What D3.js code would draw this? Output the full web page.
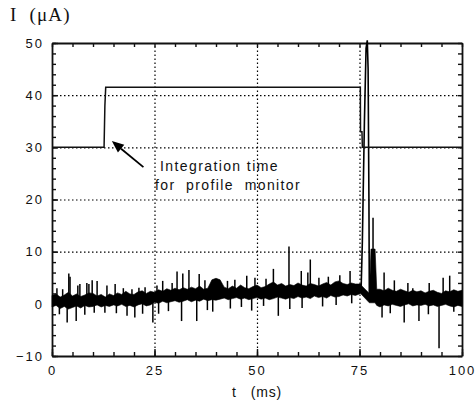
<!DOCTYPE html>
<html>
<head>
<meta charset="utf-8">
<script src="https://cdn.jsdelivr.net/npm/d3@7"></script>
<style>
  body { margin: 0; background: #fff; }
  svg { display: block; }
  .axis text { font-family: "Liberation Sans", Arial, sans-serif; font-size: 13px; letter-spacing: 2px; fill: #111; }
  .axis path, .axis line { stroke: #111; }
  .grid line { stroke: #000; stroke-width: 1.2px; stroke-dasharray: 1.5 2.5; }
  .grid path { display: none; }
</style>
</head>
<body>
<div id="chart"></div>
<script>
const width = 475;
const height = 404;

// axis ticks
const xTicks = [0, 25, 50, 75, 100];
const yTicks = [-10, 0, 10, 20, 30, 40, 50];
const xGrid = [25, 50, 75];
const yGrid = [10, 20, 30, 40];

// gate signal (integration time for the profile monitor)
const pulseT = [0, 12.7, 12.9, 13.1, 75.2, 75.25, 75.6, 75.7, 100];
const pulseV = [30, 30, 38, 41.5, 41.5, 33, 33, 30, 30];

// beam current: upper / lower edge of the noise band, read every 1 ms
const noiseT = d3.range(0, 75).concat([75.3, 75.6, 77.4, 77.8, 78.8, 79.2], d3.range(80, 101));
const noiseHi = [
  1.6, 1.9, 1.3, 1.7, 2.2, 1.5, 1.9, 1.4, 1.7, 2.1,
  2.0, 1.5, 1.8, 1.3, 1.9, 1.6, 2.1, 1.8, 2.4, 1.9,
  1.8, 2.3, 2.5, 2.0, 2.4, 2.2, 2.7, 2.4, 2.9, 2.6,
  3.0, 2.7, 3.1, 2.8, 3.2, 2.9, 3.4, 2.8, 3.0, 4.6,
  4.9, 4.6, 3.2, 2.9, 3.4, 3.0, 3.6, 3.1, 2.9, 3.3,
  3.6, 3.1, 3.3, 3.8, 4.2, 3.6, 3.9, 3.4, 3.7, 3.5,
  4.0, 3.6, 3.4, 3.9, 3.7, 3.4, 3.8, 4.1, 3.6, 4.2,
  4.4, 3.9, 3.7, 4.0, 3.8,
  3.8, 3.4, 2.0, 10.5, 10.5, 2.8,
  2.8, 2.5, 3.0, 2.6, 2.4, 2.8, 2.5, 2.2, 2.6, 2.3,
  2.5, 2.1, 2.4, 2.6, 2.2, 2.0, 2.5, 2.3, 2.7, 2.4, 2.6];
const noiseLo = [
  -0.6, -0.3, -0.9, -0.5, -1.0, -0.7, -0.4, -0.8, -0.3, -0.6,
  -0.5, -0.2, -0.6, -0.3, -0.5, -0.2, -0.4, -0.1, -0.5, -0.3,
  -0.6, -0.2, 0.0, -0.4, -0.2, 0.3, 0.1, 0.5, 0.2, 0.4,
  0.6, 0.3, 0.5, 0.8, 0.4, 0.7, 0.5, 0.9, 0.6, 0.8,
  0.7, 0.9, 1.1, 0.8, 1.0, 1.2, 0.9, 1.1, 0.8, 1.0,
  1.2, 0.9, 1.1, 0.8, 1.0, 1.3, 1.1, 0.9, 1.2, 1.0,
  1.4, 1.1, 1.3, 1.0, 1.5, 1.2, 1.4, 1.1, 1.6, 1.3,
  1.4, 1.7, 1.5, 1.8, 1.6,
  2.0, 1.7, 0.2, 0.2, 0.2, -0.3,
  -0.6, -0.2, -0.4, -0.1, -0.3, -0.5, -0.2, 0.0, -0.4, -0.2,
  -0.3, -0.1, -0.4, -0.2, -0.5, -0.3, -0.1, -0.4, -0.6, -0.3, -0.5];

// the beam pulse at extraction
const burstT = [75.4, 75.7, 76.2, 76.6, 76.9, 77.1, 77.3, 77.4];
const burstV = [3, 12, 35, 49, 50.5, 45, 20, 1];

// single spikes on the noise (time, tip value)
const spikeT = [1.2, 2.6, 4.1, 4.4, 6.3, 6.8, 8.5, 9.0, 9.8, 11, 13.4, 15.4, 17.4, 19.5, 21.2, 22.7, 25.6, 27.0, 29.3, 30.5, 31.9, 33.4, 35.9, 37.3,
                42.8, 44.6, 47.5, 49.5, 52.2, 54, 57.8, 60.8, 62.4, 63, 65.1, 67.4, 70.2, 72.7, 78.3, 81, 83.5, 86.8, 88, 92, 95.4, 97,
                1.8, 3.7, 5.9, 8, 10.3, 12.9, 15.7, 18.3, 20.2, 22.1, 24.6, 26, 28.4, 31.6, 35.3, 37.9, 39.2, 43.5, 46.2, 48.7, 51.6, 55.2, 58, 61, 66, 69.3, 73.1,
                80.5, 82.5, 85.9, 89.5, 91.8, 94.4, 98];
const spikeV = [3.0, 2.8, 5.8, 5.2, 3.5, 3.8, 4.0, 3.8, 4.5, 4.4, 3.5, 3.8, 3.0, 2.8, 3.1, 3.2, 3.5, 4.4, 4.0, 6.2, 5.8, 6.5, 5.7, 4.5,
                4.4, 4.6, 5.4, 5.0, 4.8, 6.7, 11, 6.3, 6.0, 8.5, 5.0, 5.2, 5.5, 6.3, 16.5, 6.0, 4.5, 4.0, 3.0, 4.0, 5.0, 5.4,
                -2.0, -3.6, -3.3, -2.1, -1.7, -1.7, -1.8, -2.3, -2.6, -1.9, -3.6, -1.9, -1.4, -3.3, -3.3, -1.2, -1.5, -0.9, -0.6, -1.3, -0.4, -2.3, -1.0, -0.8, -0.5, -0.2, 0.1,
                -2.6, -1.8, -3.6, -3.3, -2.0, -8.5, -1.5];

// annotation arrow, data coordinates (tail -> tip)
const arrowFrom = [22.3, 26.2];
const arrowTo = [14.6, 31.2];

const x = d3.scaleLinear().domain([0, 100]).range([52, 462]);
const y = d3.scaleLinear().domain([-10, 50]).range([356, 43]);

const svg = d3.select("#chart")
    .append("svg")
    .attr("width", width)
    .attr("height", height);

// dotted grid
svg.append("g").attr("class", "grid")
    .attr("transform", `translate(0,${y(-10)})`)
    .call(d3.axisBottom(x).tickValues(xGrid).tickSize(-(y(-10) - y(50))).tickFormat(""));
svg.append("g").attr("class", "grid")
    .attr("transform", `translate(${x(0)},0)`)
    .call(d3.axisLeft(y).tickValues(yGrid).tickSize(-(x(100) - x(0))).tickFormat(""));

// axes, ticks pointing inward on all sides
const xMinor = d3.range(0, 101, 5);
const yMinor = d3.range(-10, 51, 2);

svg.append("g").attr("class", "axis")
    .attr("transform", `translate(0,${y(-10)})`)
    .call(d3.axisBottom(x).tickValues(xMinor).tickSize(-4).tickSizeOuter(0).tickFormat(""));
svg.append("g").attr("class", "axis")
    .attr("transform", `translate(0,${y(-10)})`)
    .call(d3.axisBottom(x).tickValues(xTicks).tickSize(-7).tickPadding(10).tickFormat(d3.format("d")))
    .call(g => g.select(".domain").remove());
svg.append("g").attr("class", "axis")
    .attr("transform", `translate(0,${y(50)})`)
    .call(d3.axisTop(x).tickValues(xMinor).tickSize(-4).tickSizeOuter(0).tickFormat(""));

svg.append("g").attr("class", "axis")
    .attr("transform", `translate(${x(0)},0)`)
    .call(d3.axisLeft(y).tickValues(yMinor).tickSize(-4).tickSizeOuter(0).tickFormat(""));
svg.append("g").attr("class", "axis")
    .attr("transform", `translate(${x(0)},0)`)
    .call(d3.axisLeft(y).tickValues(yTicks).tickSize(-6).tickPadding(8).tickFormat(d3.format("d")))
    .call(g => g.select(".domain").remove());
svg.append("g").attr("class", "axis")
    .attr("transform", `translate(${x(100)},0)`)
    .call(d3.axisRight(y).tickValues(yMinor).tickSize(-4).tickSizeOuter(0).tickFormat(""));

svg.selectAll(".axis .domain").attr("stroke-width", 1.8);
svg.selectAll(".axis line").attr("stroke-width", 1.4);

// noise band
const noise = noiseT.map((t, i) => ({t, hi: noiseHi[i], lo: noiseLo[i]}));
svg.append("path")
    .datum(noise)
    .attr("d", d3.area().x(d => x(d.t)).y0(d => y(d.lo)).y1(d => y(d.hi)))
    .attr("fill", "#000")
    .attr("stroke", "#000")
    .attr("stroke-width", 0.6);

// spikes start from the middle of the band
const bis = d3.bisector(d => d.t).left;
const bandMid = t => {
  const i = Math.max(1, Math.min(noise.length - 1, bis(noise, t)));
  const a = noise[i - 1], b = noise[i];
  const f = (t - a.t) / (b.t - a.t);
  return ((a.hi + a.lo) / 2) * (1 - f) + ((b.hi + b.lo) / 2) * f;
};

svg.append("g")
    .selectAll("line")
    .data(spikeT.map((t, i) => ({t, v: spikeV[i]})))
    .join("line")
    .attr("x1", d => x(d.t)).attr("x2", d => x(d.t))
    .attr("y1", d => y(bandMid(d.t))).attr("y2", d => y(d.v))
    .attr("stroke", "#000")
    .attr("stroke-width", 1.5);

// beam pulse
svg.append("path")
    .datum(burstT.map((t, i) => [t, burstV[i]]))
    .attr("d", d3.line().x(d => x(d[0])).y(d => y(d[1])))
    .attr("fill", "none")
    .attr("stroke", "#000")
    .attr("stroke-width", 1.6);

// gate signal
svg.append("path")
    .datum(pulseT.map((t, i) => [t, pulseV[i]]))
    .attr("d", d3.line().x(d => x(d[0])).y(d => y(d[1])))
    .attr("fill", "none")
    .attr("stroke", "#111")
    .attr("stroke-width", 1.5);

// arrow
const ax0 = x(arrowFrom[0]), ay0 = y(arrowFrom[1]);
const ax1 = x(arrowTo[0]), ay1 = y(arrowTo[1]);
const ang = Math.atan2(ay1 - ay0, ax1 - ax0);
const headLen = 12, headW = 5;
const bx = ax1 - headLen * Math.cos(ang), by = ay1 - headLen * Math.sin(ang);
svg.append("line")
    .attr("x1", ax0).attr("y1", ay0).attr("x2", bx).attr("y2", by)
    .attr("stroke", "#000").attr("stroke-width", 1.8);
svg.append("path")
    .attr("d", `M${ax1},${ay1}L${bx + headW * Math.sin(ang)},${by - headW * Math.cos(ang)}L${bx - headW * Math.sin(ang)},${by + headW * Math.cos(ang)}Z`)
    .attr("fill", "#000");

// annotation text
const note = svg.append("g")
    .attr("font-family", "'Liberation Sans', Arial, sans-serif")
    .attr("font-size", 14)
    .attr("letter-spacing", 1.4)
    .attr("fill", "#111");
note.append("text").attr("x", 160).attr("y", 171).text("Integration time");
note.append("text").attr("x", 155).attr("y", 190).attr("xml:space", "preserve").text("for  profile  monitor");

// axis titles
svg.append("text")
    .attr("x", 10).attr("y", 21)
    .attr("font-family", "'Liberation Serif', 'Times New Roman', serif")
    .attr("font-size", 19)
    .attr("letter-spacing", 1.2)
    .attr("fill", "#111")
    .attr("xml:space", "preserve")
    .text("I  (μA)");

svg.append("text")
    .attr("x", 232).attr("y", 397)
    .attr("font-family", "'Liberation Sans', Arial, sans-serif")
    .attr("font-size", 14)
    .attr("letter-spacing", 0.8)
    .attr("fill", "#111")
    .attr("xml:space", "preserve")
    .text("t   (ms)");
</script>
</body>
</html>
